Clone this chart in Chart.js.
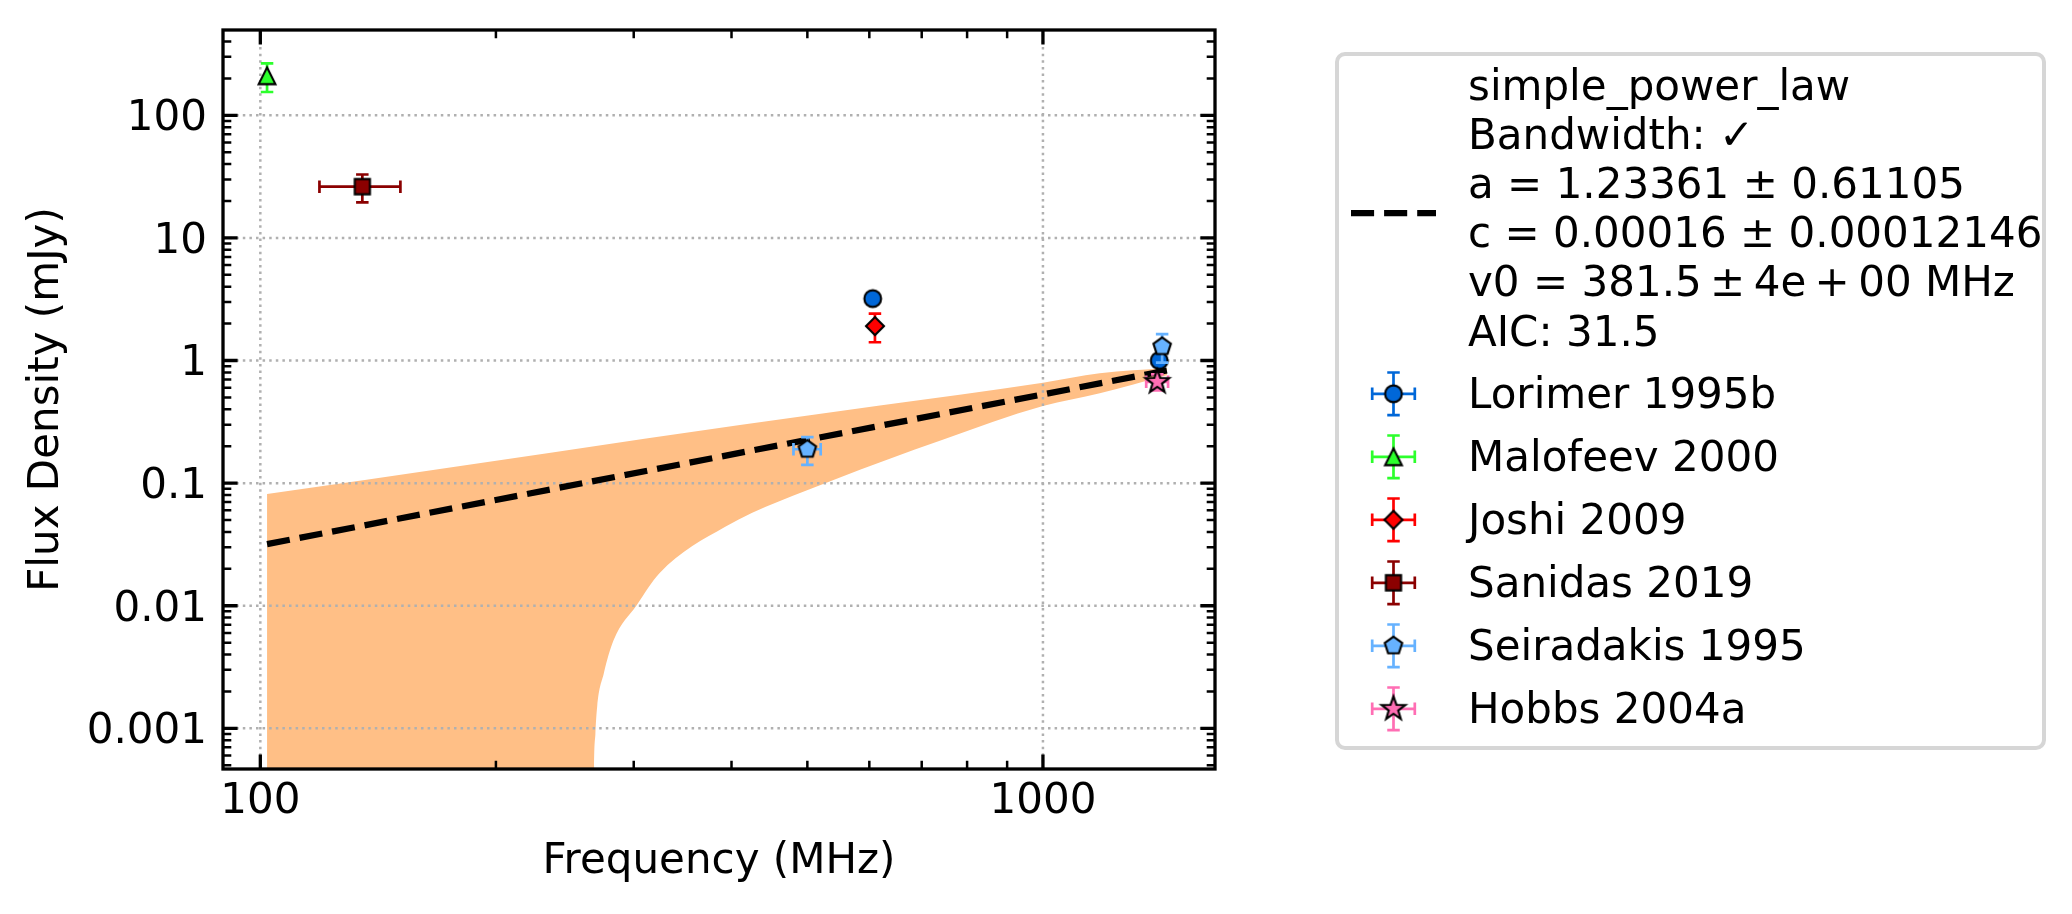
<!DOCTYPE html>
<html>
<head>
<meta charset="utf-8">
<script src="https://cdn.jsdelivr.net/npm/chart.js@4.4.1/dist/chart.umd.min.js"></script>
<style>
  html, body { margin: 0; padding: 0; background: #fff; overflow: hidden; }
  #wrap { position: relative; width: 2072px; height: 914px; font-family: "DejaVu Sans", sans-serif; color: #000; }
  #chart, #handles { position: absolute; left: 0; top: 0; }
  #handles { pointer-events: none; }
  #legendBox { position: absolute; left: 1335px; top: 52px; width: 711px; height: 698px; box-sizing: border-box;
               border: 4px solid #d6d6d6; border-radius: 10px; }
  .lg { position: absolute; left: 1468px; font-size: 42px; line-height: 50px; white-space: nowrap; }
</style>
</head>
<body>
<div id="wrap">
  <canvas id="chart" width="2072" height="914"></canvas>
  <div id="legendBox"></div>
  <canvas id="handles" width="2072" height="914"></canvas>
  <div id="legendText"></div>
</div>
<script>
// axis ticks
const xTicks = [100, 1000];
const xTickLabels = ['100', '1000'];
const yTicks = [0.001, 0.01, 0.1, 1, 10, 100];
const yTickLabels = ['0.001', '0.01', '0.1', '1', '10', '100'];

// measurements (MHz, mJy)
const lorimerFreq = [606, 1408];
const lorimerFlux = [3.2, 1.0];
const lorimerFluxErr = [0.3, 0.1];
const lorimerFreqErr = [0, 0];

const malofeevFreq = [102];
const malofeevFlux = [210];
const malofeevFluxErr = [55];
const malofeevFreqErr = [0];

const joshiFreq = [610];
const joshiFlux = [1.91];
const joshiFluxErr = [0.5];
const joshiFreqErr = [0];

const sanidasFreq = [135];
const sanidasFlux = [26.2];
const sanidasFluxErr = [6.7];
const sanidasFreqErr = [16];

const seiradakisFreq = [500, 1420];
const seiradakisFlux = [0.189, 1.30];
const seiradakisFluxErr = [0.048, 0.34];
const seiradakisFreqErr = [20, 0];

const hobbsFreq = [1400];
const hobbsFlux = [0.67];
const hobbsFluxErr = [0.1];
const hobbsFreqErr = [45];

// fitted model and its uncertainty band
const fitFreq = [102, 1440];
const fitFlux = [0.0318, 0.83];
const bandUpperFreq = [102, 136, 410, 619, 1000, 1182, 1440];
const bandUpperFlux = [0.0815, 0.106, 0.298, 0.43, 0.66, 0.787, 0.87];
const bandLowerFreq = [102, 266.5, 267, 268, 269.4, 274.7, 282.8, 302.6, 323.6, 392.7, 540, 743, 1000, 1182, 1440];
const bandLowerFlux = [0.0001, 0.0001, 0.00046, 0.0009, 0.0015, 0.0028, 0.00525, 0.0101, 0.0184, 0.044, 0.106, 0.225, 0.425, 0.54, 0.76];

const fitLines = ['simple_power_law', 'Bandwidth: \u2713', 'a = 1.23361 \u00b1 0.61105',
  'c = 0.00016 \u00b1 0.00012146', 'v0 = 381.5\u2009\u00b1\u20094e\u2009+\u200900 MHz', 'AIC: 31.5'];

const FONT = 'DejaVu Sans';

function makeMarker(shape, fill) {
  const c = document.createElement('canvas');
  c.width = 32; c.height = 32;
  const g = c.getContext('2d');
  g.translate(16, 16);
  g.beginPath();
  if (shape === 'circle') {
    g.arc(0, 0, 8.4, 0, Math.PI * 2);
  } else if (shape === 'triangle') {
    g.moveTo(0, -8.4); g.lineTo(-8.4, 8.4); g.lineTo(8.4, 8.4); g.closePath();
  } else if (shape === 'diamond') {
    g.moveTo(0, -9); g.lineTo(9, 0); g.lineTo(0, 9); g.lineTo(-9, 0); g.closePath();
  } else if (shape === 'square') {
    g.rect(-7.6, -7.6, 15.2, 15.2);
  } else if (shape === 'pentagon') {
    for (let i = 0; i < 5; i++) {
      const t = -Math.PI / 2 + i * 2 * Math.PI / 5;
      if (i === 0) g.moveTo(9.2 * Math.cos(t), 9.2 * Math.sin(t)); else g.lineTo(9.2 * Math.cos(t), 9.2 * Math.sin(t));
    }
    g.closePath();
  } else if (shape === 'star') {
    for (let i = 0; i < 10; i++) {
      const r = i % 2 === 0 ? 12.5 : 5.0;
      const t = -Math.PI / 2 + i * Math.PI / 5;
      if (i === 0) g.moveTo(r * Math.cos(t), r * Math.sin(t)); else g.lineTo(r * Math.cos(t), r * Math.sin(t));
    }
    g.closePath();
  }
  g.fillStyle = fill;
  g.fill();
  g.lineWidth = 2.1;
  g.lineJoin = 'miter';
  g.strokeStyle = '#000';
  g.stroke();
  return c;
}

const sources = [
  { name: 'Lorimer 1995b', freq: lorimerFreq, flux: lorimerFlux, fluxErr: lorimerFluxErr, freqErr: lorimerFreqErr, color: '#0067d8', shape: 'circle' },
  { name: 'Malofeev 2000', freq: malofeevFreq, flux: malofeevFlux, fluxErr: malofeevFluxErr, freqErr: malofeevFreqErr, color: '#2cff2c', shape: 'triangle' },
  { name: 'Joshi 2009', freq: joshiFreq, flux: joshiFlux, fluxErr: joshiFluxErr, freqErr: joshiFreqErr, color: '#ff0000', shape: 'diamond' },
  { name: 'Sanidas 2019', freq: sanidasFreq, flux: sanidasFlux, fluxErr: sanidasFluxErr, freqErr: sanidasFreqErr, color: '#8b0000', shape: 'square' },
  { name: 'Seiradakis 1995', freq: seiradakisFreq, flux: seiradakisFlux, fluxErr: seiradakisFluxErr, freqErr: seiradakisFreqErr, color: '#66b2ff', shape: 'pentagon' },
  { name: 'Hobbs 2004a', freq: hobbsFreq, flux: hobbsFlux, fluxErr: hobbsFluxErr, freqErr: hobbsFreqErr, color: '#ff6eb4', shape: 'star' }
];
sources.forEach(s => { s.img = makeMarker(s.shape, s.color); });

const toXY = (xs, ys) => xs.map((x, i) => ({ x: x, y: ys[i] }));

const datasets = [
  { label: 'band upper', data: toXY(bandUpperFreq, bandUpperFlux), showLine: true, borderWidth: 0, pointRadius: 0,
    cubicInterpolationMode: 'monotone', backgroundColor: '#ffbf86', fill: 1, order: 30 },
  { label: 'band lower', data: toXY(bandLowerFreq, bandLowerFlux), showLine: true, borderWidth: 0, pointRadius: 0,
    cubicInterpolationMode: 'monotone', fill: false, order: 31 },
  { label: 'fit', data: toXY(fitFreq, fitFlux), showLine: true, borderColor: '#000', borderWidth: 6.25,
    borderDash: [23.1, 10], pointRadius: 0, fill: false, order: 20, isFit: true }
];
sources.forEach((s, k) => {
  datasets.push({
    label: s.name, data: toXY(s.freq, s.flux), showLine: false, pointStyle: s.img, pointRadius: 10,
    order: 6 - k, xErr: s.freqErr, yErr: s.fluxErr, errColor: s.color
  });
});

function drawGrid(chart) {
  const { ctx, chartArea: a, scales: { x, y } } = chart;
  ctx.save();
  ctx.strokeStyle = '#b0b0b0';
  ctx.lineWidth = 2.5;
  ctx.setLineDash([2.5, 4.1]);
  xTicks.forEach(v => {
    const px = x.getPixelForValue(v);
    ctx.beginPath(); ctx.moveTo(px, a.bottom); ctx.lineTo(px, a.top); ctx.stroke();
  });
  yTicks.forEach(v => {
    const py = y.getPixelForValue(v);
    ctx.beginPath(); ctx.moveTo(a.left, py); ctx.lineTo(a.right, py); ctx.stroke();
  });
  ctx.restore();
}

function drawErrorBars(chart, ds) {
  const { ctx, scales: { x, y } } = chart;
  const cap = 6.25;
  ctx.save();
  ctx.strokeStyle = ds.errColor;
  ctx.lineWidth = 2.7;
  ds.data.forEach((p, i) => {
    const px = x.getPixelForValue(p.x), py = y.getPixelForValue(p.y);
    const dy = ds.yErr[i], dx = ds.xErr[i];
    if (dy > 0) {
      const top = y.getPixelForValue(p.y + dy), bot = y.getPixelForValue(p.y - dy);
      ctx.beginPath();
      ctx.moveTo(px, top); ctx.lineTo(px, bot);
      ctx.moveTo(px - cap, top); ctx.lineTo(px + cap, top);
      ctx.moveTo(px - cap, bot); ctx.lineTo(px + cap, bot);
      ctx.stroke();
    }
    if (dx > 0) {
      const l = x.getPixelForValue(p.x - dx), r = x.getPixelForValue(p.x + dx);
      ctx.beginPath();
      ctx.moveTo(l, py); ctx.lineTo(r, py);
      ctx.moveTo(l, py - cap); ctx.lineTo(l, py + cap);
      ctx.moveTo(r, py - cap); ctx.lineTo(r, py + cap);
      ctx.stroke();
    }
  });
  ctx.restore();
}

const axesDeco = {
  id: 'axesDeco',
  beforeDatasetDraw(chart, args) {
    const ds = chart.data.datasets[args.index];
    if (ds.isFit) drawGrid(chart);
    if (ds.yErr) drawErrorBars(chart, ds);
  },
  afterDraw(chart) {
    const { ctx, chartArea: a, scales: { x, y } } = chart;
    ctx.save();
    ctx.strokeStyle = '#000';
    const xMinor = [], yMinor = [];
    for (let m = 2; m <= 9; m++) xMinor.push(m * 100);
    for (let e = -4; e <= 2; e++) for (let m = 2; m <= 9; m++) {
      const v = m * Math.pow(10, e);
      if (v > y.min && v < y.max) yMinor.push(v);
    }
    const tx = (vals, len, w) => {
      ctx.lineWidth = w;
      vals.forEach(v => {
        const px = x.getPixelForValue(v);
        ctx.beginPath();
        ctx.moveTo(px, a.bottom); ctx.lineTo(px, a.bottom - len);
        ctx.moveTo(px, a.top); ctx.lineTo(px, a.top + len);
        ctx.stroke();
      });
    };
    const ty = (vals, len, w) => {
      ctx.lineWidth = w;
      vals.forEach(v => {
        const py = y.getPixelForValue(v);
        ctx.beginPath();
        ctx.moveTo(a.left, py); ctx.lineTo(a.left + len, py);
        ctx.moveTo(a.right, py); ctx.lineTo(a.right - len, py);
        ctx.stroke();
      });
    };
    tx(xMinor, 8.3, 2.5);
    ty(yMinor, 8.3, 2.5);
    tx(xTicks, 14.6, 3.3);
    ty(yTicks, 14.6, 3.3);
    ctx.lineWidth = 3.3;
    ctx.strokeRect(a.left, a.top, a.right - a.left, a.bottom - a.top);
    ctx.restore();
  }
};

new Chart(document.getElementById('chart'), {
  type: 'scatter',
  data: { datasets: datasets },
  options: {
    responsive: false,
    animation: false,
    devicePixelRatio: 1,
    layout: { padding: { left: 0, top: 30, right: 857, bottom: 0 } },
    plugins: { legend: { display: false }, tooltip: { enabled: false } },
    scales: {
      x: {
        type: 'logarithmic', min: 89.6, max: 1659, bounds: 'data',
        afterBuildTicks: s => { s.ticks = xTicks.map(v => ({ value: v })); },
        afterFit: s => { s.height = 145; s.paddingLeft = 0; s.paddingRight = 0; },
        grid: { display: false, drawTicks: false },
        border: { display: false },
        ticks: { autoSkip: false, maxRotation: 0, padding: 8, color: '#000',
                 font: { family: FONT, size: 42 }, callback: (v, i) => xTickLabels[i] },
        title: { display: true, text: 'Frequency (MHz)', color: '#000',
                 font: { family: FONT, size: 42 }, padding: { top: 0, bottom: 27 } }
      },
      y: {
        type: 'logarithmic', min: 0.000466, max: 496.4, bounds: 'data',
        afterBuildTicks: s => { s.ticks = yTicks.map(v => ({ value: v })); },
        afterFit: s => { s.width = 223; s.paddingTop = 0; s.paddingBottom = 0; },
        grid: { display: false, drawTicks: false },
        border: { display: false },
        ticks: { autoSkip: false, padding: 16, labelOffset: 4, color: '#000',
                 font: { family: FONT, size: 42 }, callback: (v, i) => yTickLabels[i] },
        title: { display: true, text: 'Flux Density (mJy)', color: '#000',
                 font: { family: FONT, size: 42 }, padding: { top: 22, bottom: 0 } }
      }
    }
  },
  plugins: [axesDeco]
});

// legend: text as HTML, handles on an overlay canvas
const fitBaseline0 = 100.5, fitStep = 49.1;
const entryBaseline0 = 408.5, entryStep = 63.0;
const legendText = document.getElementById('legendText');
fitLines.forEach((t, i) => {
  const d = document.createElement('div');
  d.className = 'lg';
  d.style.top = (fitBaseline0 + i * fitStep - 39.5) + 'px';
  d.textContent = t;
  legendText.appendChild(d);
});
sources.forEach((s, i) => {
  const d = document.createElement('div');
  d.className = 'lg';
  d.style.top = (entryBaseline0 + i * entryStep - 39.5) + 'px';
  d.textContent = s.name;
  legendText.appendChild(d);
});

const hc = document.getElementById('handles').getContext('2d');
hc.save();
hc.strokeStyle = '#000';
hc.lineWidth = 6.25;
hc.setLineDash([23.1, 10]);
hc.beginPath(); hc.moveTo(1351, 213); hc.lineTo(1436, 213); hc.stroke();
hc.restore();
sources.forEach((s, i) => {
  const cx = 1393.5, cy = entryBaseline0 + i * entryStep - 14.7;
  const h = 21.3, cap = 6.25;
  hc.save();
  hc.strokeStyle = s.color;
  hc.lineWidth = 2.7;
  hc.beginPath();
  hc.moveTo(cx - h, cy); hc.lineTo(cx + h, cy);
  hc.moveTo(cx, cy - h); hc.lineTo(cx, cy + h);
  hc.moveTo(cx - h, cy - cap); hc.lineTo(cx - h, cy + cap);
  hc.moveTo(cx + h, cy - cap); hc.lineTo(cx + h, cy + cap);
  hc.moveTo(cx - cap, cy - h); hc.lineTo(cx + cap, cy - h);
  hc.moveTo(cx - cap, cy + h); hc.lineTo(cx + cap, cy + h);
  hc.stroke();
  hc.restore();
  hc.drawImage(s.img, cx - 16, cy - 16);
});
</script>
</body>
</html>
